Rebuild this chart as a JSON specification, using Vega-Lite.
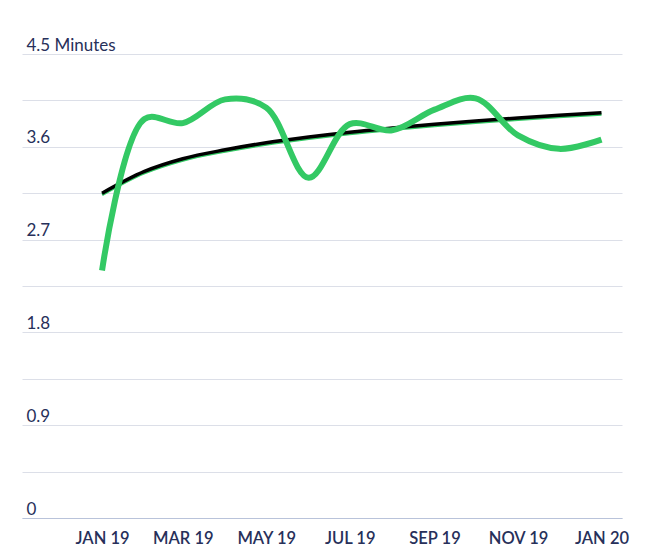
{
  "$schema": "https://vega.github.io/schema/vega-lite/v6.json",
  "width": 600,
  "height": 464,
  "autosize": {"type": "none"},
  "padding": {"left": 22, "top": 54, "right": 30, "bottom": 33},
  "background": "#ffffff",
  "config": {
    "view": {"stroke": null},
    "font": "Lato"
  },
  "data": {
    "values": [
      {"date": "2019-01-01", "value": 2.40, "trend": 3.150},
      {"date": "2019-02-01", "value": 3.87, "trend": 3.361},
      {"date": "2019-03-01", "value": 3.83, "trend": 3.484},
      {"date": "2019-04-01", "value": 4.06, "trend": 3.571},
      {"date": "2019-05-01", "value": 3.98, "trend": 3.639},
      {"date": "2019-06-01", "value": 3.30, "trend": 3.695},
      {"date": "2019-07-01", "value": 3.82, "trend": 3.742},
      {"date": "2019-08-01", "value": 3.76, "trend": 3.782},
      {"date": "2019-09-01", "value": 3.96, "trend": 3.818},
      {"date": "2019-10-01", "value": 4.07, "trend": 3.850},
      {"date": "2019-11-01", "value": 3.71, "trend": 3.879},
      {"date": "2019-12-01", "value": 3.58, "trend": 3.905},
      {"date": "2020-01-01", "value": 3.67, "trend": 3.930}
    ]
  },
  "encoding": {
    "x": {
      "field": "date",
      "type": "temporal",
      "scale": {
        "type": "utc",
        "domain": [
          {"year": 2018, "month": 11, "date": 3, "hours": 12, "utc": true},
          {"year": 2020, "month": 1, "date": 16, "utc": true}
        ]
      },
      "axis": {
        "title": null,
        "values": [
          {"year": 2019, "month": 1, "date": 1, "utc": true},
          {"year": 2019, "month": 3, "date": 1, "utc": true},
          {"year": 2019, "month": 5, "date": 1, "utc": true},
          {"year": 2019, "month": 7, "date": 1, "utc": true},
          {"year": 2019, "month": 9, "date": 1, "utc": true},
          {"year": 2019, "month": 11, "date": 1, "utc": true},
          {"year": 2020, "month": 1, "date": 1, "utc": true}
        ],
        "labelExpr": "upper(utcFormat(datum.value, '%b %y'))",
        "grid": false,
        "ticks": false,
        "domain": true,
        "domainColor": "#b9c3da",
        "domainWidth": 1,
        "labelFont": "Lato",
        "labelFontSize": 16.5,
        "labelFontWeight": 600,
        "labelColor": "#27305a",
        "labelPadding": 12,
        "labelFlush": false
      }
    }
  },
  "layer": [
    {
      "mark": {"type": "line", "color": "#33c964", "strokeWidth": 3, "yOffset": 1.5, "interpolate": "monotone"},
      "encoding": {
        "y": {
          "field": "trend",
          "type": "quantitative",
          "scale": {"domain": [0, 4.5], "nice": false, "zero": false},
          "axis": {
            "title": null,
            "values": [0, 0.45, 0.9, 1.35, 1.8, 2.25, 2.7, 3.15, 3.6, 4.05, 4.5],
            "labelExpr": "datum.value == 4.5 ? '4.5 Minutes' : (round(datum.value * 100) % 90 == 0 ? format(datum.value, '~g') : '')",
            "grid": true,
            "gridColor": "#dcdfe8",
            "gridWidth": 1,
            "domain": false,
            "ticks": false,
            "labelAlign": "left",
            "labelBaseline": "alphabetic",
            "labelPadding": -4,
            "labelOffset": -4,
            "labelFont": "Lato",
            "labelFontSize": 17,
            "labelColor": "#27305a"
          }
        }
      }
    },
    {
      "mark": {"type": "line", "color": "#000000", "strokeWidth": 3.5, "interpolate": "monotone"},
      "encoding": {"y": {"field": "trend", "type": "quantitative"}}
    },
    {
      "mark": {"type": "line", "color": "#33c964", "strokeWidth": 6, "interpolate": "catmull-rom"},
      "encoding": {"y": {"field": "value", "type": "quantitative"}}
    }
  ]
}
